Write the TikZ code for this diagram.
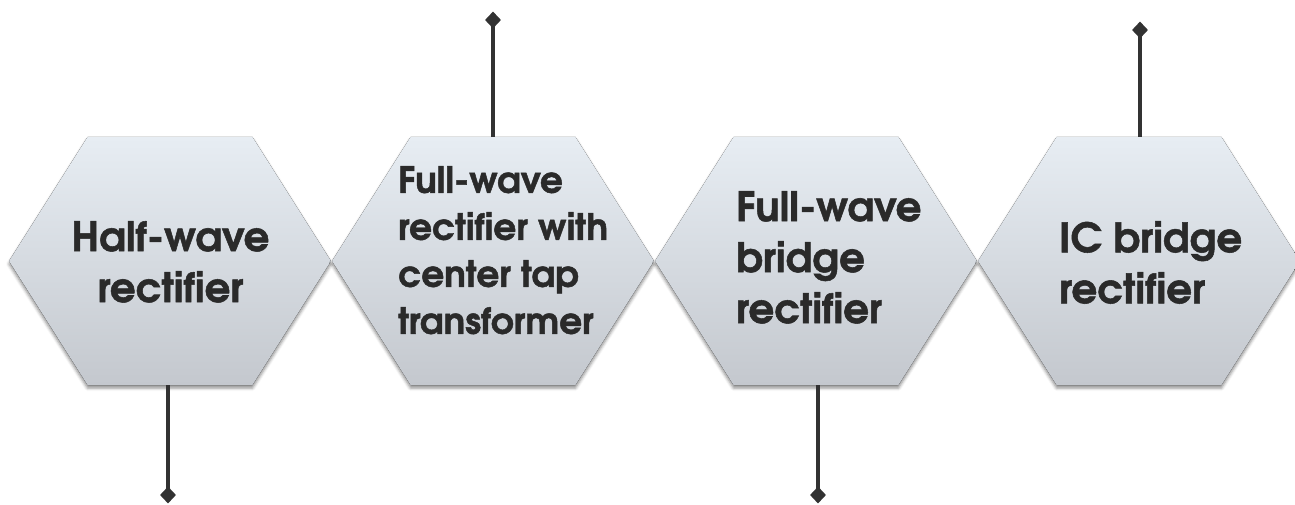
\documentclass[tikz,border=0pt]{standalone}
\usepackage{fontspec}
\newfontfamily\hexfontface[Extension=.otf,FakeBold=1.3]{texgyreadventor-bold}
\usetikzlibrary{shapes.geometric,shadows.blur}
\definecolor{hexTop}{RGB}{231,237,243}
\definecolor{hexBot}{RGB}{196,200,206}
\definecolor{txtc}{RGB}{42,42,42}
\definecolor{stemc}{RGB}{50,50,50}
\tikzset{
  hexfill/.style={top color=hexTop, bottom color=hexBot, draw=none,
    blur shadow={shadow xshift=0pt, shadow yshift=-3pt, shadow blur radius=3pt, shadow opacity=45}},
  hexanchor/.style={draw=none, minimum width=322pt, minimum height=248pt, inner sep=0pt},
  bigtext/.style={font=\hexfontface\fontsize{40.5}{51}\selectfont, text=txtc, inner sep=0pt, anchor=north},
  smalltext/.style={font=\hexfontface\fontsize{36}{47}\selectfont, text=txtc, inner sep=0pt, anchor=north west},
  stemline/.style={line width=4.5pt, draw=stemc},
  tipmark/.style={diamond, fill=stemc, draw=none, inner sep=0pt, minimum width=16pt, minimum height=17pt}
}
\begin{document}
\begin{tikzpicture}[x=1pt,y=-1pt]
\useasboundingbox (0,0) rectangle (1295,505);
% hexagons
\foreach \cx in {170,493,816,1139}{
  \fill[hexfill] (\cx-161,261) -- (\cx-82.5,137) -- (\cx+82.5,137) -- (\cx+161,261)
     -- (\cx+82.5,385) -- (\cx-82.5,385) -- cycle;
}
\node[hexanchor] (h1) at (168,261) {};
\node[hexanchor] (h2) at (493,261) {};
\node[hexanchor] (h3) at (818,261) {};
\node[hexanchor] (h4) at (1140,261) {};
% labels
\node[bigtext, align=center] (t1) at (170.5,221) {Half-wave\\rectifier};
\node[smalltext, align=left] (t2) at (398,166) {Full-wave\\rectifier with\\center tap\\transformer};
\node[bigtext, anchor=north west, align=left] (t3) at (736,191) {Full-wave\\bridge\\rectifier};
\node[bigtext, anchor=north west, align=left] (t4) at (1059,221) {IC bridge\\rectifier};
% stems with diamond ends
\node[tipmark] (d1) at (168,495) {};
\node[tipmark] (d2) at (493,20) {};
\node[tipmark] (d3) at (818,495) {};
\node[tipmark] (d4) at (1140,30) {};
\draw[stemline] (h1.south) -- (d1.center);
\draw[stemline] (h2.north) -- (d2.center);
\draw[stemline] (h3.south) -- (d3.center);
\draw[stemline] (h4.north) -- (d4.center);
\end{tikzpicture}
\end{document}
